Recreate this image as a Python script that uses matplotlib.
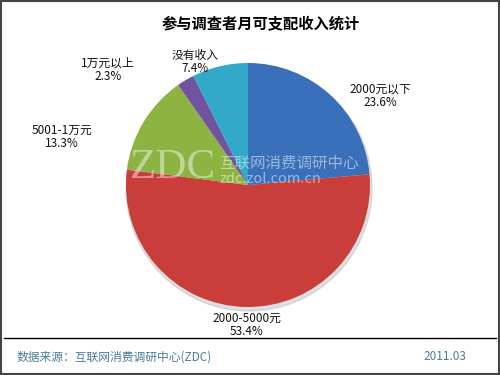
import matplotlib.pyplot as plt
from matplotlib.patches import Rectangle, Circle

plt.rcParams['font.family'] = ['Noto Sans CJK SC', 'DejaVu Sans']

labels = ['2000元以下', '2000-5000元', '5001-1万元', '1万元以上', '没有收入']
shares = [23.6, 53.4, 13.3, 2.3, 7.4]
colors = ['#3a6fba', '#c93d3b', '#8db443', '#7153a0', '#33a9c9']
# label anchor points in pixels (x, y from top), layout only
label_pos = [(380, 96), (247, 325), (62, 137), (108, 70), (195, 62)]

W, H = 500, 375
fig = plt.figure(figsize=(5, 3.75), dpi=100)
ax = fig.add_axes([0, 0, 1, 1])

cx, cy, r = 248, H - 185, 122

# soft shadow under the pie
ax.add_patch(Circle((cx + 1, cy - 3), r + 1, color='#b8b8b8', alpha=0.45, zorder=1))

ax.pie(shares, colors=colors, startangle=90, counterclock=False,
       center=(cx, cy), radius=r, frame=True,
       wedgeprops=dict(linewidth=0, zorder=2))
ax.set_xlim(0, W)
ax.set_ylim(0, H)
ax.set_aspect('equal')
ax.axis('off')

for name, val, (x, y) in zip(labels, shares, label_pos):
    ax.text(x, H - y, f'{name}\n{val}%', ha='center', va='center',
            fontsize=8.5, linespacing=1.05, color='#111111', zorder=5)

# watermark
ax.text(173, H - 168, 'ZDC', fontsize=31, family='Liberation Serif',
        color='white', alpha=0.45, ha='center', va='center', zorder=4)
ax.text(219, H - 163, '互联网消费调研中心', fontsize=11.2, color='white',
        alpha=0.5, ha='left', va='center', zorder=4)
ax.text(219, H - 179, 'zdc.zol.com.cn', fontsize=10.5, color='white',
        alpha=0.5, ha='left', va='center', zorder=4)

ax.text(261, H - 24, '参与调查者月可支配收入统计', fontsize=11,
        fontweight='bold', ha='center', va='center', color='black')

# footer
ax.plot([4, 496], [H - 338, H - 338], color='black', lw=1)
ax.text(17, H - 357, '数据来源：互联网消费调研中心(ZDC)', fontsize=8.5,
        color='#4a7c99', ha='left', va='center')
ax.text(466, H - 357, '2011.03', fontsize=8.5, color='#4a7c99',
        ha='right', va='center')

ax.add_patch(Rectangle((0.75, 0.75), W - 1.5, H - 1.5, fill=False,
                       edgecolor='#444444', lw=1.5, zorder=10))

fig.savefig('out.png', dpi=100)
plt.close()
